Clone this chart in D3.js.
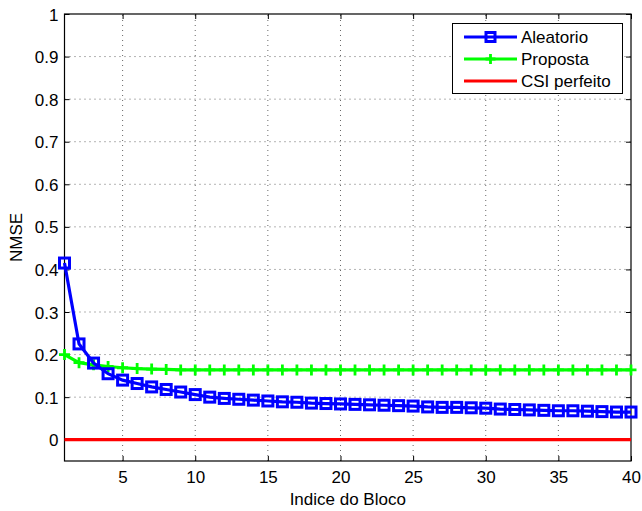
<!DOCTYPE html>
<html>
<head>
<meta charset="utf-8">
<script src="https://cdn.jsdelivr.net/npm/d3@7"></script>
<style>
  body { margin: 0; background: #fff; }
  text { font-family: "Liberation Sans", Arial, sans-serif; }
</style>
</head>
<body>
<div id="chart"></div>
<script>
const blocks = d3.range(1, 41);

const aleatorio = [0.415, 0.225, 0.180, 0.155, 0.140, 0.132, 0.124, 0.118, 0.112, 0.106,
    0.100, 0.097, 0.095, 0.093, 0.091, 0.089, 0.088, 0.086, 0.085, 0.084,
    0.083, 0.082, 0.081, 0.080, 0.079, 0.077, 0.076, 0.076, 0.075, 0.074,
    0.072, 0.071, 0.070, 0.069, 0.068, 0.068, 0.067, 0.066, 0.065, 0.065];

const proposta = [0.200, 0.181, 0.176, 0.172, 0.169, 0.167, 0.166, 0.165, 0.164, 0.164,
    0.164, 0.164, 0.164, 0.164, 0.164, 0.164, 0.164, 0.164, 0.164, 0.164,
    0.164, 0.164, 0.164, 0.164, 0.164, 0.164, 0.164, 0.164, 0.164, 0.164,
    0.164, 0.164, 0.164, 0.164, 0.164, 0.164, 0.164, 0.164, 0.164, 0.164];

const csiPerfeito = blocks.map(() => 0);

const xTicks = [5, 10, 15, 20, 25, 30, 35, 40];
const yTicks = [0, 0.1, 0.2, 0.3, 0.4, 0.5, 0.6, 0.7, 0.8, 0.9, 1];

const series = [
    { name: "Aleatorio", values: aleatorio, color: "#0000ff", marker: "square" },
    { name: "Proposta", values: proposta, color: "#00ff00", marker: "plus" },
    { name: "CSI perfeito", values: csiPerfeito, color: "#ff0000", marker: null }
];

const width = 642;
const height = 511;
const margin = { left: 64.5, right: 11, top: 14, bottom: 50 };
const fontSize = 17;

const svg = d3.select("#chart")
    .append("svg")
    .attr("width", width)
    .attr("height", height);

const x = d3.scaleLinear().domain([1, 40]).range([margin.left, width - margin.right]);
const y = d3.scaleLinear().domain([-0.05, 1]).range([height - margin.bottom, margin.top]);

const x0 = x.range()[0], x1 = x.range()[1];
const y0 = y.range()[0], y1 = y.range()[1];

// grid
const grid = svg.append("g")
    .attr("stroke", "#000")
    .attr("stroke-width", 0.6)
    .attr("stroke-dasharray", "1,4");

grid.selectAll(".gx")
    .data(xTicks.filter(d => d < 40))
    .enter()
    .append("line")
    .attr("x1", d => x(d)).attr("x2", d => x(d))
    .attr("y1", y0).attr("y2", y1);

grid.selectAll(".gy")
    .data(yTicks.filter(d => d < 1))
    .enter()
    .append("line")
    .attr("x1", x0).attr("x2", x1)
    .attr("y1", d => y(d)).attr("y2", d => y(d));

// axes, ticks inside, mirrored on top/right
const tickLen = 5;
const axisBottom = d3.axisBottom(x).tickValues(xTicks).tickSizeInner(-tickLen).tickSizeOuter(0).tickPadding(0);
const axisLeft = d3.axisLeft(y).tickValues(yTicks).tickSizeInner(-tickLen).tickSizeOuter(0).tickPadding(6).tickFormat(d3.format("~g"));

const gx = svg.append("g").attr("transform", `translate(0,${y0})`).call(axisBottom);
const gy = svg.append("g").attr("transform", `translate(${x0},0)`).call(axisLeft);

gx.selectAll(".tick text").attr("y", 22).attr("dy", 0);
gy.selectAll(".tick text").attr("dy", "0.36em");

svg.append("g").attr("transform", `translate(0,${y1})`)
    .call(d3.axisTop(x).tickValues(xTicks).tickSizeInner(-tickLen).tickSizeOuter(0).tickFormat(""));
svg.append("g").attr("transform", `translate(${x1},0)`)
    .call(d3.axisRight(y).tickValues(yTicks).tickSizeInner(-tickLen).tickSizeOuter(0).tickFormat(""));

svg.selectAll(".tick text")
    .attr("font-size", fontSize)
    .attr("font-family", "'Liberation Sans', Arial, sans-serif")
    .attr("fill", "#000");
svg.selectAll(".domain").attr("stroke", "none");
svg.selectAll(".tick line").attr("stroke", "#000").attr("stroke-width", 1);

// box
svg.append("rect")
    .attr("x", x0).attr("y", y1)
    .attr("width", x1 - x0).attr("height", y0 - y1)
    .attr("fill", "none")
    .attr("stroke", "#000")
    .attr("stroke-width", 1.2);

// lines
const line = d3.line().x((d, i) => x(blocks[i])).y(d => y(d));

const plot = svg.append("g");

function drawMarker(g, type, color, cx, cy, size) {
    if (type === "square") {
        g.append("rect")
            .attr("x", cx - size / 2).attr("y", cy - size / 2)
            .attr("width", size).attr("height", size)
            .attr("fill", "none")
            .attr("stroke", color)
            .attr("stroke-width", 3);
    } else if (type === "plus") {
        g.append("path")
            .attr("d", `M${cx - size / 2},${cy}H${cx + size / 2}M${cx},${cy - size / 2}V${cy + size / 2}`)
            .attr("stroke", color)
            .attr("stroke-width", 2.8)
            .attr("fill", "none");
    }
}

series.slice().reverse().forEach(s => {
    plot.append("path")
        .datum(s.values)
        .attr("d", line)
        .attr("fill", "none")
        .attr("stroke", s.color)
        .attr("stroke-width", 3.2);
    if (s.marker) {
        const mg = plot.append("g");
        s.values.forEach((v, i) => drawMarker(mg, s.marker, s.color, x(blocks[i]), y(v), s.marker === "square" ? 10 : 11));
    }
});

// labels
svg.append("text")
    .attr("x", (x0 + x1) / 2)
    .attr("y", 505)
    .attr("text-anchor", "middle")
    .attr("font-size", fontSize)
    .text("Indice do Bloco");

svg.append("text")
    .attr("transform", `translate(22,${(y0 + y1) / 2}) rotate(-90)`)
    .attr("text-anchor", "middle")
    .attr("font-size", fontSize)
    .text("NMSE");

// legend
const legend = svg.append("g");
legend.append("rect")
    .attr("x", 452.5).attr("y", 23.5)
    .attr("width", 170).attr("height", 70)
    .attr("fill", "#fff")
    .attr("stroke", "#000")
    .attr("stroke-width", 1);

series.forEach((s, i) => {
    const ly = 37 + i * 22;
    legend.append("line")
        .attr("x1", 464).attr("x2", 517)
        .attr("y1", ly).attr("y2", ly)
        .attr("stroke", s.color)
        .attr("stroke-width", 3.2);
    if (s.marker) drawMarker(legend, s.marker, s.color, 490.5, ly, s.marker === "square" ? 9 : 10);
    legend.append("text")
        .attr("x", 521)
        .attr("y", ly + 6)
        .attr("font-size", fontSize)
        .text(s.name);
});
</script>
</body>
</html>
